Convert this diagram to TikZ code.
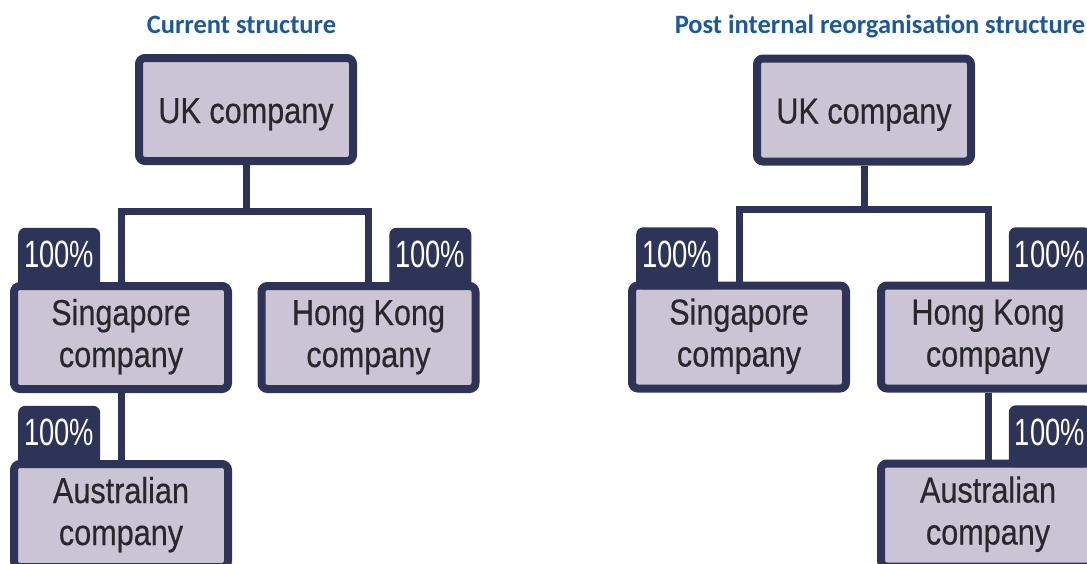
\documentclass[tikz,border=0pt]{standalone}
\usepackage{fontspec}
\setmainfont{Liberation Sans}
\newfontfamily\boxfont[FakeStretch=0.85, FakeBold=0.4]{Liberation Sans}
\newfontfamily\tagfont[FakeStretch=0.72]{Liberation Sans}
\newfontfamily\headfont{Carlito}
\usepackage{tikz}
\usetikzlibrary{positioning}
\definecolor{navy}{RGB}{46,51,88}
\definecolor{lilac}{RGB}{202,196,212}
\definecolor{headblue}{RGB}{28,88,158}
\definecolor{ink}{RGB}{40,40,44}
\newcommand{\duo}[2]{\begin{tabular}[b]{@{}c@{}}#1\\#2\end{tabular}}

\begin{document}
\begin{tikzpicture}[x=1pt, y=-1pt,
			company/.style = {
				draw = navy, fill = lilac, line width = 8pt, rounded corners = 6pt,
				minimum width = 214pt, minimum height = 103pt, inner sep = 0pt,
				text height = 36pt, text depth = 9pt,
				text = ink, font = \boxfont\fontsize{36}{42}\selectfont
			},
			pair/.style = {
				company, text height = 68pt, text depth = 9pt
			},
			share/.style = {
				fill = navy, rounded corners = 7pt, text = white,
				minimum width = 82pt, minimum height = 62pt, inner sep = 0pt,
				text height = 27pt, text depth = 9pt,
				font = \tagfont\fontsize{38}{40}\selectfont
			},
			heading/.style = {
				anchor = base, text = headblue,
				font = \headfont\bfseries\fontsize{26.5}{30}\selectfont
			},
			link/.style = {
				draw = navy, line width = 7pt, line join = miter
			}]
			\useasboundingbox (0,0) rectangle (1087,563);
			\clip (0,0) rectangle (1087,563);
			% current structure
			\node (h1) [heading] at (241.5,33) {Current structure};
			\node (uk1) [company] at (246,109.5) {UK company};
			\node (sg1) [pair, below = 117pt of uk1, xshift = -125pt] {\duo{Singapore}{company}};
			\node (hk1) [pair, below = 117pt of uk1, xshift = 122.5pt] {\duo{Hong Kong}{company}};
			\node (au1) [pair, below = 67pt of sg1] {\duo{Australian}{company}};
			\coordinate [below = 46pt of uk1] (j1);
			\node (p1) [share, anchor = south west] at ([xshift = 8pt, yshift = -8pt]sg1.north west) {100\%};
			\node (p2) [share, anchor = south east] at ([xshift = -8pt, yshift = -8pt]hk1.north east) {100\%};
			\node (p3) [share, anchor = south west] at ([xshift = 8pt, yshift = -8pt]au1.north west) {100\%};
			\draw [link] (uk1.south) -- (j1);
			\draw [link] (sg1.north) |- (j1) -| (hk1.north);
			\draw [link] (sg1.south) -- (au1.north);
			% post internal reorganisation structure
			\node (h2) [heading] at (880,33) {Post internal reorganisation structure};
			\node (uk2) [company] at (864,110) {UK company};
			\node (sg2) [pair, below = 116pt of uk2, xshift = -125pt] {\duo{Singapore}{company}};
			\node (hk2) [pair, below = 116pt of uk2, xshift = 124pt] {\duo{Hong Kong}{company}};
			\node (au2) [pair, below = 67pt of hk2] {\duo{Australian}{company}};
			\coordinate [below = 44pt of uk2] (j2);
			\node (p4) [share, anchor = south west] at ([xshift = 8pt, yshift = -8pt]sg2.north west) {100\%};
			\node (p5) [share, anchor = south east] at ([xshift = -8pt, yshift = -8pt]hk2.north east) {100\%};
			\node (p6) [share, anchor = south east] at ([xshift = -8pt, yshift = -8pt]au2.north east) {100\%};
			\draw [link] (uk2.south) -- (j2);
			\draw [link] (sg2.north) |- (j2) -| (hk2.north);
			\draw [link] (hk2.south) -- (au2.north);
		\end{tikzpicture}
\end{document}
